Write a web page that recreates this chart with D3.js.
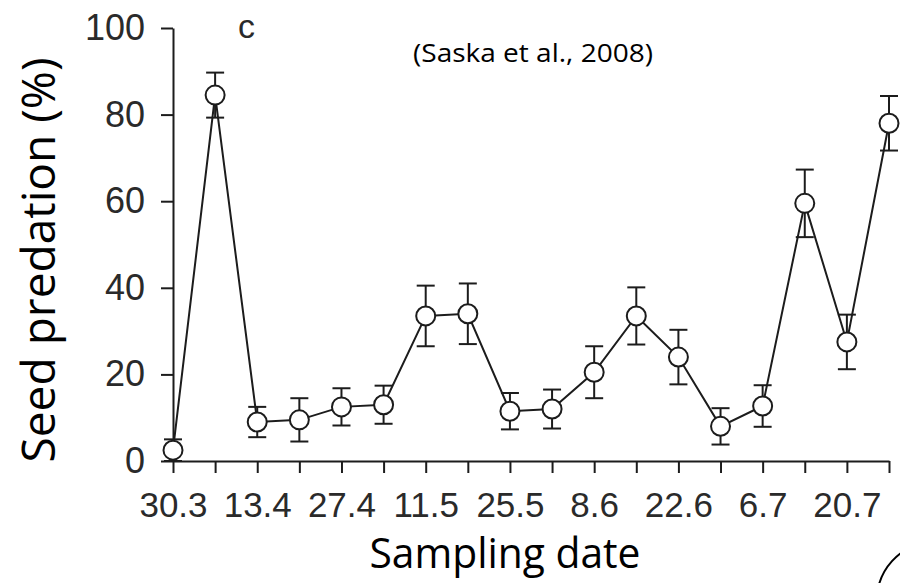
<!DOCTYPE html>
<html>
<head>
<meta charset="utf-8">
<script src="https://cdn.jsdelivr.net/npm/d3@7"></script>
<style>
  html, body { margin: 0; padding: 0; background: #fff; }
  svg { display: block; }
</style>
</head>
<body>
<svg id="chart" width="900" height="583"></svg>
<script>
// ---- data ----
const sampleIndex = d3.range(18);
const tickLabels = ["30.3", "13.4", "27.4", "11.5", "25.5", "8.6", "22.6", "6.7", "20.7"];
const predation = [2.5, 84.5, 9, 9.5, 12.5, 13, 33.5, 34, 11.5, 12, 20.5, 33.5, 24, 8, 12.7, 59.5, 27.5, 78];
const errors    = [2.5, 5.2, 3.5, 5, 4.3, 4.4, 7, 7, 4.2, 4.5, 6, 6.6, 6.3, 4.2, 4.8, 7.8, 6.3, 6.3];
const yTicks = [0, 20, 40, 60, 80, 100];

const svg = d3.select("#chart");
const ink = "#1c1c1c";

const x = d3.scalePoint().domain(sampleIndex).range([173, 889]);
const y = d3.scaleLinear().domain([0, 100]).range([461, 28]);

// axes
const yAxis = svg.append("g")
  .attr("transform", "translate(173,0)")
  .call(d3.axisLeft(y).tickValues(yTicks).tickSize(12).tickSizeOuter(0).tickPadding(16));
yAxis.selectAll("text").attr("font-family", "'Liberation Sans', Arial, sans-serif").attr("font-size", 36).attr("fill", "#2a2a2a");

const xAxis = svg.append("g")
  .attr("transform", "translate(0,461)")
  .call(d3.axisBottom(x).tickSize(12).tickSizeOuter(0).tickPadding(19)
    .tickFormat(i => i % 2 === 0 ? tickLabels[i / 2] : ""));
xAxis.selectAll("text").attr("font-family", "'Liberation Sans', Arial, sans-serif").attr("font-size", 35).attr("fill", "#2a2a2a");

[yAxis, xAxis].forEach(g => {
  g.select(".domain").attr("stroke", ink).attr("stroke-width", 2);
  g.selectAll(".tick line").attr("stroke", ink).attr("stroke-width", 2);
});

// connecting line
svg.append("path")
  .datum(sampleIndex)
  .attr("fill", "none")
  .attr("stroke", ink)
  .attr("stroke-width", 2)
  .attr("d", d3.line().x(i => x(i)).y(i => y(predation[i])));

// error bars
const eb = svg.append("g").attr("stroke", ink).attr("stroke-width", 2);
sampleIndex.forEach(i => {
  const cx = x(i);
  const hi = y(Math.min(100, predation[i] + errors[i]));
  const lo = y(Math.max(0, predation[i] - errors[i]));
  eb.append("line").attr("x1", cx).attr("x2", cx).attr("y1", hi).attr("y2", lo);
  eb.append("line").attr("x1", cx - 9).attr("x2", cx + 9).attr("y1", hi).attr("y2", hi);
  eb.append("line").attr("x1", cx - 9).attr("x2", cx + 9).attr("y1", lo).attr("y2", lo);
});

// markers
svg.append("g").selectAll("circle")
  .data(sampleIndex)
  .join("circle")
  .attr("cx", i => x(i))
  .attr("cy", i => y(predation[i]))
  .attr("r", 9.5)
  .attr("fill", "#fff")
  .attr("stroke", ink)
  .attr("stroke-width", 2);

// panel letter
svg.append("text")
  .attr("x", 238).attr("y", 38)
  .attr("font-family", "'Liberation Sans', Arial, sans-serif")
  .attr("font-size", 34).attr("fill", "#2a2a2a")
  .text("c");

// citation
svg.append("text")
  .attr("x", 413).attr("y", 62)
  .attr("font-family", "'Open Sans', sans-serif")
  .attr("font-size", 26).attr("fill", "#000")
  .attr("textLength", 240).attr("lengthAdjust", "spacingAndGlyphs")
  .text("(Saska et al., 2008)");

// axis titles
svg.append("text")
  .attr("x", 505).attr("y", 568)
  .attr("text-anchor", "middle")
  .attr("font-family", "'Open Sans', sans-serif")
  .attr("font-size", 42).attr("fill", "#000")
  .attr("textLength", 271).attr("lengthAdjust", "spacingAndGlyphs")
  .text("Sampling date");

svg.append("text")
  .attr("transform", "translate(55,260) rotate(-90)")
  .attr("text-anchor", "middle")
  .attr("font-family", "'Open Sans', sans-serif")
  .attr("font-size", 45).attr("fill", "#000")
  .attr("textLength", 405).attr("lengthAdjust", "spacingAndGlyphs")
  .text("Seed predation (%)");

// decorative arc at bottom right corner
svg.append("path")
  .attr("fill", "none")
  .attr("stroke", "#000")
  .attr("stroke-width", 2)
  .attr("transform", "translate(935,600)")
  .attr("d", d3.arc()({innerRadius: 58, outerRadius: 58, startAngle: -Math.PI / 2, endAngle: -0.1}));
</script>
</body>
</html>
